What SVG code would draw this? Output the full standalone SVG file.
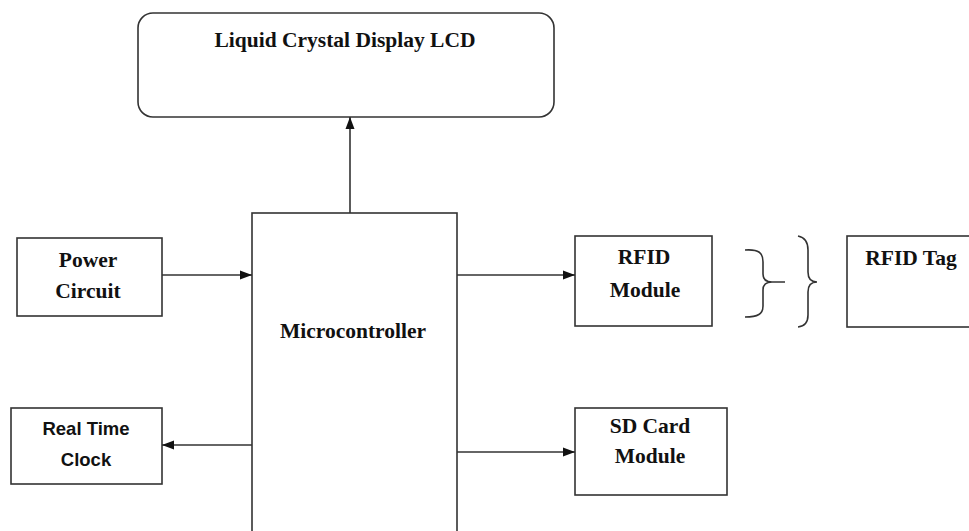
<svg xmlns="http://www.w3.org/2000/svg" width="969" height="531" viewBox="0 0 969 531">
<style>
.box{fill:#fff;stroke:#333;stroke-width:1.6}
.ser{font-family:"Liberation Serif","Times New Roman",serif;font-weight:bold;font-size:21.5px;fill:#111;text-anchor:middle}
.san{font-family:"Liberation Sans",Arial,sans-serif;font-weight:bold;font-size:18.5px;fill:#111;text-anchor:middle}
.ln{fill:none;stroke:#333;stroke-width:1.6}
</style>
<defs>
<marker id="ah" viewBox="0 0 12 10" refX="12" refY="5" markerWidth="12" markerHeight="10" markerUnits="userSpaceOnUse" orient="auto">
<path d="M0,0.5 L12,5 L0,9.5 Z" fill="#111"/>
</marker>
</defs>
<rect width="969" height="531" fill="#fff"/>
<g id="lcd">
<rect class="box" x="138" y="13" width="416" height="104" rx="15"/>
<text class="ser" x="345" y="47">Liquid Crystal Display LCD</text>
</g>
<g id="microcontroller">
<rect class="box" x="252" y="213" width="205" height="330"/>
<text class="ser" x="353" y="338">Microcontroller</text>
</g>
<g id="power">
<rect class="box" x="17" y="238" width="145" height="78"/>
<text class="ser" x="88" y="267">Power</text>
<text class="ser" x="88" y="298">Circuit</text>
</g>
<g id="rtc">
<rect class="box" x="11" y="408" width="151" height="76"/>
<text class="san" x="86" y="435">Real Time</text>
<text class="san" x="86" y="466">Clock</text>
</g>
<g id="rfid">
<rect class="box" x="575" y="236" width="137" height="90"/>
<text class="ser" x="644" y="264">RFID</text>
<text class="ser" x="645" y="297">Module</text>
</g>
<g id="rfidtag">
<rect class="box" x="847" y="236" width="140" height="91"/>
<text class="ser" x="911" y="265">RFID Tag</text>
</g>
<g id="sdcard">
<rect class="box" x="575" y="408" width="152" height="87"/>
<text class="ser" x="650" y="433">SD Card</text>
<text class="ser" x="650" y="463">Module</text>
</g>
<g id="connectors">
<line class="ln" x1="350" y1="213" x2="350" y2="117" marker-end="url(#ah)"/>
<line class="ln" x1="162" y1="275" x2="252" y2="275" marker-end="url(#ah)"/>
<line class="ln" x1="252" y1="445" x2="162" y2="445" marker-end="url(#ah)"/>
<line class="ln" x1="457" y1="275" x2="575" y2="275" marker-end="url(#ah)"/>
<line class="ln" x1="457" y1="452" x2="575" y2="452" marker-end="url(#ah)"/>
<path class="ln" d="M745,250 C759,249 763,253 763,262 L763,274 Q763,282 772,282 L785,282 M772,282 Q763,282 763,290 L763,306 C763,314 758,317 745,317"/>
<path class="ln" d="M798,236 Q808,238 808,250 L808,272 Q808,282 817,282 Q808,282 808,292 L808,315 Q808,326 798,327"/>
</g>
</svg>
